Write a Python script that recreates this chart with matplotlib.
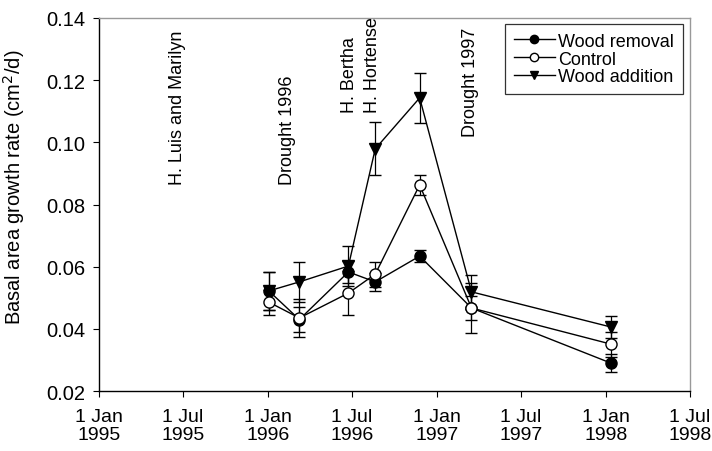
import matplotlib
matplotlib.use("Agg")
import matplotlib.pyplot as plt
from matplotlib.lines import Line2D
import datetime as dt

plt.rcParams['font.family'] = ['Liberation Sans', 'DejaVu Sans']

# Sampling dates
dates = ["1996-01-03", "1996-03-09", "1996-06-23", "1996-08-20",
         "1996-11-24", "1997-03-16", "1998-01-11"]

removal = [0.0522, 0.0430, 0.0583, 0.0551, 0.0634, 0.0467, 0.0290]
removal_err = [0.0060, 0.0040, 0.0035, 0.0030, 0.0020, 0.0040, 0.0030]

control = [0.0486, 0.0435, 0.0515, 0.0576, 0.0863, 0.0467, 0.0351]
control_err = [0.0040, 0.0060, 0.0072, 0.0040, 0.0032, 0.0080, 0.0040]

addition = [0.0522, 0.0551, 0.0602, 0.0979, 0.1143, 0.0519, 0.0406]
addition_err = [0.0062, 0.0065, 0.0065, 0.0085, 0.0080, 0.0055, 0.0035]

tick_dates = ["1995-01-01", "1995-07-01", "1996-01-01", "1996-07-01",
              "1997-01-01", "1997-07-01", "1998-01-01", "1998-07-01"]
tick_labels = ["1 Jan\n1995", "1 Jul\n1995", "1 Jan\n1996", "1 Jul\n1996",
               "1 Jan\n1997", "1 Jul\n1997", "1 Jan\n1998", "1 Jul\n1998"]

events = ["H. Luis and Marilyn", "Drought 1996", "H. Bertha", "H. Hortense", "Drought 1997"]
event_dates = ["1995-06-20", "1996-02-12", "1996-06-25", "1996-08-14", "1997-03-14"]
event_y = [0.0866, 0.0866, 0.1098, 0.1098, 0.1020]

to_d = lambda s: dt.datetime.strptime(s, "%Y-%m-%d")
x = [to_d(d) for d in dates]

fig = plt.figure(figsize=(7.12, 4.52), dpi=100)
ax = fig.add_axes([0.139, 0.1327, 0.830, 0.8253])

common = dict(color='black', lw=1.0, capsize=4, elinewidth=0.9, capthick=0.9,
              markersize=8, markeredgecolor='black', markeredgewidth=1.0)
ax.errorbar(x, addition, yerr=addition_err, fmt='-v', markerfacecolor='black', zorder=3, **common)
ax.errorbar(x, removal, yerr=removal_err, fmt='-o', markerfacecolor='black', zorder=4, **common)
ax.errorbar(x, control, yerr=control_err, fmt='-o', markerfacecolor='white', zorder=5, **common)

for t, d, yv in zip(events, event_dates, event_y):
    ax.text(to_d(d), yv, t, rotation=90, ha='center', va='bottom', fontsize=13)

ax.set_xlim(to_d("1995-01-01"), to_d("1998-07-01"))
ax.set_ylim(0.02, 0.14)
ax.set_xticks([to_d(d) for d in tick_dates])
ax.set_xticklabels(tick_labels, fontsize=14, linespacing=1.12)
ax.set_yticks([0.02, 0.04, 0.06, 0.08, 0.10, 0.12, 0.14])
ax.set_yticklabels(["0.02", "0.04", "0.06", "0.08", "0.10", "0.12", "0.14"], fontsize=14.5)
ax.tick_params(axis='x', direction='out', length=4, width=0.8, pad=8)
ax.tick_params(axis='y', direction='out', length=4, width=0.8, pad=6)
ax.set_ylabel("Basal area growth rate (cm$^2$/d)", fontsize=14.5)
ax.yaxis.set_label_coords(-0.122, 0.55)

for s in ['left', 'bottom']:
    ax.spines[s].set_color('black')
    ax.spines[s].set_linewidth(1.0)
for s in ['top', 'right']:
    ax.spines[s].set_color('#999999')
    ax.spines[s].set_linewidth(1.0)

handles = [
    Line2D([], [], color='black', lw=1, marker='o', markersize=6, markerfacecolor='black', markeredgecolor='black'),
    Line2D([], [], color='black', lw=1, marker='o', markersize=6, markerfacecolor='white', markeredgecolor='black'),
    Line2D([], [], color='black', lw=1, marker='v', markersize=6, markerfacecolor='black', markeredgecolor='black'),
]
leg = ax.legend(handles, ["Wood removal", "Control", "Wood addition"], loc='upper right',
                bbox_to_anchor=(0.988, 0.985), fontsize=13, frameon=True, fancybox=False,
                edgecolor='black', handlelength=2.3, handletextpad=0.15, borderpad=0.5,
                labelspacing=0.05, borderaxespad=0.0)
leg.get_frame().set_linewidth(0.9)

fig.savefig("out.png", dpi=100)
